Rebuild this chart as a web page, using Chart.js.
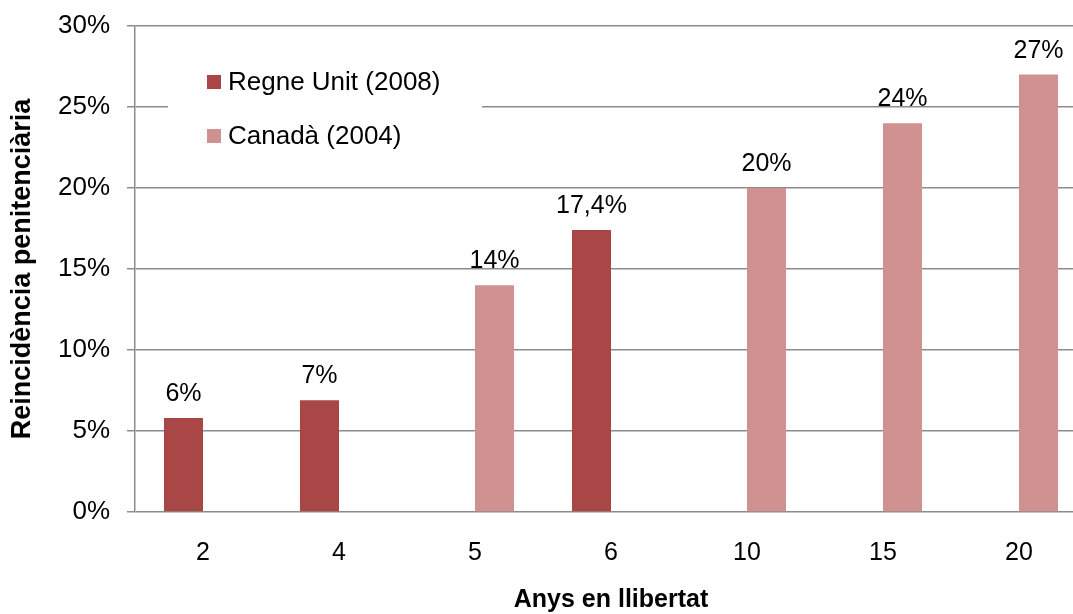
<!DOCTYPE html>
<html>
<head>
<meta charset="utf-8">
<script src="https://cdn.jsdelivr.net/npm/chart.js@4/dist/chart.umd.min.js"></script>
<style>
  html, body { margin: 0; padding: 0; background: #fff; overflow: hidden; }
  #wrap { width: 1090px; height: 614px; }
</style>
</head>
<body>
<div id="wrap"><canvas id="chart"></canvas></div>
<script>
// anys en llibertat
var categories = ["2", "4", "5", "6", "10", "15", "20"];

// reincidència (%)
var regneUnit = [5.8, 6.9, null, 17.4, null, null, null];
var canada    = [null, null, 14, null, 20, 24, 27];

// etiquetes que surten sobre les barres
var regneUnitLabels = ["6%", "7%", null, "17,4%", null, null, null];
var canadaLabels    = [null, null, "14%", null, "20%", "24%", "27%"];

var FONT = "'Liberation Sans', Arial, sans-serif";

// etiquetes de valor damunt de cada barra
var barLabels = {
  id: 'barLabels',
  afterDatasetsDraw: function (chart) {
    var c = chart.ctx;
    var texts = [regneUnitLabels, canadaLabels];
    c.save();
    c.font = "25px " + FONT;
    c.fillStyle = "#000";
    c.textAlign = "center";
    c.textBaseline = "alphabetic";
    chart.data.datasets.forEach(function (ds, i) {
      chart.getDatasetMeta(i).data.forEach(function (bar, j) {
        if (texts[i][j] == null) return;
        c.fillText(texts[i][j], bar.x, bar.y - 17);
      });
    });
    c.restore();
  }
};

// llegenda dins de l'area del grafic, amb fons blanc
var boxLegend = {
  id: 'boxLegend',
  afterDraw: function (chart) {
    var c = chart.ctx;
    var a = chart.chartArea;
    var x0 = a.left + 33, y0 = a.top + 32;
    c.save();
    c.fillStyle = "#fff";
    c.fillRect(x0, y0, 314, 98);
    c.font = "26px " + FONT;
    c.textBaseline = "middle";
    chart.data.datasets.forEach(function (ds, i) {
      var y = y0 + 24 + i * 54;
      c.fillStyle = ds.backgroundColor;
      c.fillRect(x0 + 39, y - 7, 14, 14);
      c.fillStyle = "#000";
      c.fillText(ds.label, x0 + 60, y + 1);
    });
    c.restore();
  }
};

new Chart(document.getElementById("chart"), {
  type: 'bar',
  data: {
    labels: categories,
    datasets: [
      {
        label: "Regne Unit (2008)",
        data: regneUnit,
        backgroundColor: "#a84745"
      },
      {
        label: "Canadà (2004)",
        data: canada,
        backgroundColor: "#d09191"
      }
    ]
  },
  options: {
    responsive: true,
    maintainAspectRatio: false,
    animation: false,
    categoryPercentage: 0.574,
    barPercentage: 1,
    layout: { padding: { top: 26, right: 3, left: 0, bottom: 0 } },
    plugins: {
      legend: { display: false },
      tooltip: { enabled: false }
    },
    scales: {
      x: {
        grid: { display: false, drawTicks: false },
        border: { display: false },
        ticks: { color: "#000", font: { family: FONT, size: 25 }, padding: 26 },
        title: {
          display: true,
          text: "Anys en llibertat",
          color: "#000",
          font: { family: FONT, size: 25, weight: 'bold', lineHeight: 1.1 },
          padding: 0
        },
        afterFit: function (s) { s.height = 102; s.paddingLeft = 0; s.paddingRight = 0; }
      },
      y: {
        min: 0,
        max: 30,
        ticks: {
          stepSize: 5,
          color: "#000",
          font: { family: FONT, size: 26 },
          padding: 17,
          callback: function (v) { return v + "%"; }
        },
        grid: { color: "#8c8c8c", lineWidth: 1.5, tickLength: 8 },
        border: { display: true, color: "#8c8c8c", width: 1.5 },
        title: {
          display: true,
          text: "Reincidència penitenciària",
          color: "#000",
          font: { family: FONT, size: 27, weight: 'bold', lineHeight: 1.1 },
          padding: { top: 8, bottom: 0 }
        },
        afterFit: function (s) { s.width = 135; s.paddingTop = 0; s.paddingBottom = 0; }
      }
    }
  },
  plugins: [barLabels, boxLegend]
});
</script>
</body>
</html>
